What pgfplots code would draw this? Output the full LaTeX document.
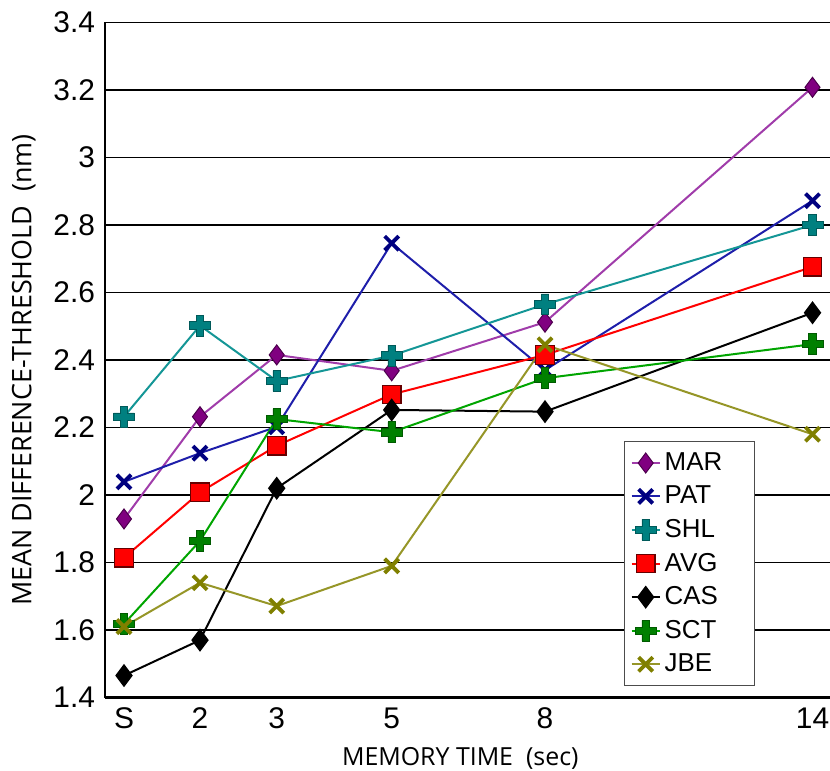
\documentclass[border=0pt]{standalone}
\usepackage{pgfplots}
\usepackage{pgfplotstable}
\pgfplotsset{compat=1.18}
\usepackage{fontspec}
\setmainfont{Liberation Sans}
\newfontfamily\osans{Open Sans}
\definecolor{marC}{RGB}{128,0,128}
\definecolor{marL}{RGB}{160,60,170}
\definecolor{patC}{RGB}{0,0,128}
\definecolor{patL}{RGB}{30,30,170}
\definecolor{shlC}{RGB}{0,128,128}
\definecolor{shlL}{RGB}{20,150,150}
\definecolor{avgC}{RGB}{255,0,0}
\definecolor{sctC}{RGB}{0,128,0}
\definecolor{sctL}{RGB}{0,165,0}
\definecolor{jbeC}{RGB}{128,128,0}
\definecolor{jbeL}{RGB}{150,150,40}
\pgfdeclareplotmark{fatplus}{%
 \pgfpathmoveto{\pgfqpoint{-0.36\pgfplotmarksize}{\pgfplotmarksize}}%
 \pgfpathlineto{\pgfqpoint{0.36\pgfplotmarksize}{\pgfplotmarksize}}%
 \pgfpathlineto{\pgfqpoint{0.36\pgfplotmarksize}{0.36\pgfplotmarksize}}%
 \pgfpathlineto{\pgfqpoint{\pgfplotmarksize}{0.36\pgfplotmarksize}}%
 \pgfpathlineto{\pgfqpoint{\pgfplotmarksize}{-0.36\pgfplotmarksize}}%
 \pgfpathlineto{\pgfqpoint{0.36\pgfplotmarksize}{-0.36\pgfplotmarksize}}%
 \pgfpathlineto{\pgfqpoint{0.36\pgfplotmarksize}{-\pgfplotmarksize}}%
 \pgfpathlineto{\pgfqpoint{-0.36\pgfplotmarksize}{-\pgfplotmarksize}}%
 \pgfpathlineto{\pgfqpoint{-0.36\pgfplotmarksize}{-0.36\pgfplotmarksize}}%
 \pgfpathlineto{\pgfqpoint{-\pgfplotmarksize}{-0.36\pgfplotmarksize}}%
 \pgfpathlineto{\pgfqpoint{-\pgfplotmarksize}{0.36\pgfplotmarksize}}%
 \pgfpathlineto{\pgfqpoint{-0.36\pgfplotmarksize}{0.36\pgfplotmarksize}}%
 \pgfpathclose
 \pgfusepathqfillstroke}
\pgfplotstableread{
x MAR PAT SHL AVG CAS SCT JBE
124 1.929 2.039 2.232 1.814 1.465 1.618 1.610
200 2.232 2.124 2.502 2.008 1.570 1.864 1.740
276.7 2.415 2.202 2.338 2.146 2.020 2.225 1.671
391.7 2.368 2.746 2.413 2.298 2.252 2.186 1.790
545 2.512 2.370 2.565 2.415 2.247 2.346 2.445
812.5 3.208 2.872 2.800 2.676 2.540 2.447 2.180
}\data
\newcommand{\legtxt}[1]{\makebox[40bp][l]{#1}}
\begin{document}
\begin{tikzpicture}
\useasboundingbox (0,0) rectangle (415bp,385.5bp);
\begin{axis}[
  at={(52.5bp,36.75bp)}, anchor=south west,
  width=362.5bp, height=337.5bp, scale only axis,
  xmin=105, xmax=830, ymin=1.4, ymax=3.4,
  axis x line*=bottom, axis y line*=left,
  axis line style={line width=1.3bp, -},
  xtick={124,200,276.7,391.7,545,812.5},
  xticklabels={S,2,3,5,8,14},
  ytick={1.4,1.6,1.8,2,2.2,2.4,2.6,2.8,3,3.2,3.4},
  ymajorgrids,
  major grid style={black, line width=0.7bp},
  major tick length=0pt,
  tick label style={font=\fontsize{15}{18}\selectfont},
  /pgf/number format/assume math mode=true,
  xticklabel style={yshift=-1.5bp},
  yticklabel style={xshift=-1.5bp},
  xlabel={\osans MEMORY TIME\ \ (sec)},
  ylabel={\osans MEAN DIFFERENCE-THRESHOLD\ \ (nm)},
  xlabel style={font=\fontsize{12.5}{15}\selectfont, at={(axis description cs:0.49,-0.09)}, anchor=center},
  ylabel style={font=\fontsize{13.5}{16}\selectfont, at={(axis description cs:-0.112,0.485)}, anchor=center},
  legend style={at={(0.716,0.380)}, anchor=north west, draw=black!70, line width=0.6bp, fill=white,
    font=\fontsize{13}{15}\selectfont, inner xsep=3bp, inner ysep=3.5bp, row sep=2.3bp},
  legend cell align=left,
  legend image code/.code={\draw[mark repeat=2,mark phase=2,#1] plot coordinates {(0bp,0bp) (7bp,0bp) (14bp,0bp)};},
  every axis plot/.append style={line width=1bp},
]
\addplot[color=marL, mark=diamond*, mark size=5bp, mark options={fill=marC, draw=marC!60!black, line width=0.5bp}] table[x=x,y=MAR]{\data};
\addlegendentry{\legtxt{MAR}}
\addplot[color=patL, mark=x, mark size=5bp, mark options={draw=patC, line width=1.9bp}] table[x=x,y=PAT]{\data};
\addlegendentry{\legtxt{PAT}}
\addplot[color=shlL, mark=fatplus, mark size=5.2bp, mark options={fill=shlC, draw=shlC!70!black, line width=0.4bp}] table[x=x,y=SHL]{\data};
\addlegendentry{\legtxt{SHL}}
\addplot[color=avgC, mark=square*, mark size=4.6bp, mark options={fill=avgC, draw=avgC!40!black, line width=0.6bp}] table[x=x,y=AVG]{\data};
\addlegendentry{\legtxt{AVG}}
\addplot[color=black, mark=diamond*, mark size=5bp, mark options={fill=black, draw=black}] table[x=x,y=CAS]{\data};
\addlegendentry{\legtxt{CAS}}
\addplot[color=sctL, mark=fatplus, mark size=5.2bp, mark options={fill=sctC, draw=sctC!70!black, line width=0.4bp}] table[x=x,y=SCT]{\data};
\addlegendentry{\legtxt{SCT}}
\addplot[color=jbeL, mark=x, mark size=5bp, mark options={draw=jbeC, line width=1.9bp}] table[x=x,y=JBE]{\data};
\addlegendentry{\legtxt{JBE}}
\end{axis}
\end{tikzpicture}
\end{document}
